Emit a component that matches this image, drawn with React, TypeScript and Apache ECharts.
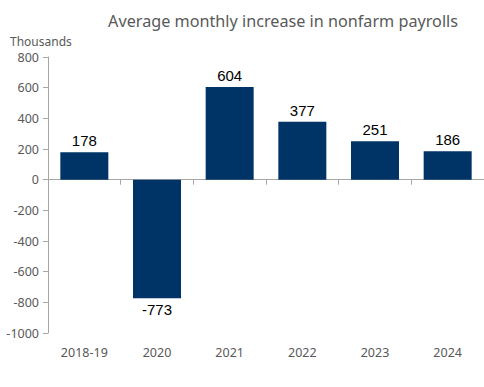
import React, { useEffect, useRef } from "react";
import * as echarts from "echarts";

const categories = ["2018-19", "2020", "2021", "2022", "2023", "2024"];
const values = [178, -773, 604, 377, 251, 186];
const yMin = -1000;
const yMax = 800;
const yInterval = 200;
const titleText = "Average monthly increase in nonfarm payrolls";
const unitText = "Thousands";

export default function App() {
  const ref = useRef<HTMLDivElement>(null);
  useEffect(() => {
    if (!ref.current) return;
    const chart = echarts.init(ref.current, undefined, { renderer: "svg" });
    const axisGray = "#a6a6a6";
    const textGray = "#595959";
    chart.setOption({
      animation: false,
      backgroundColor: "#ffffff",
      title: [
        {
          text: titleText,
          right: 21,
          top: 8,
          textStyle: { fontFamily: "Noto Sans", fontSize: 16.2, fontWeight: "normal", color: textGray },
        },
        {
          text: unitText,
          left: 5,
          top: 30,
          textStyle: { fontFamily: "Noto Sans", fontSize: 12, fontWeight: "normal", color: textGray },
        },
      ],
      grid: { left: 48, right: -2, top: 57, bottom: 54, containLabel: false },
      xAxis: [
        {
          type: "category",
          data: categories,
          position: "bottom",
          axisLine: { show: false, onZero: false },
          axisTick: { show: false },
          axisLabel: { fontFamily: "Noto Sans", fontSize: 12.5, color: textGray, margin: 13 },
        },
        {
          type: "category",
          data: categories,
          position: "bottom",
          axisLine: { show: true, onZero: true, lineStyle: { color: axisGray, width: 1 } },
          axisTick: { show: true, length: 5, lineStyle: { color: axisGray } },
          axisLabel: { show: false },
        },
      ],
      yAxis: {
        type: "value",
        min: yMin,
        max: yMax,
        interval: yInterval,
        axisLine: { show: true, lineStyle: { color: axisGray } },
        axisTick: { show: true, length: 5, lineStyle: { color: axisGray } },
        splitLine: { show: false },
        axisLabel: {
          fontFamily: "Noto Sans",
          fontSize: 12.5,
          color: textGray,
          margin: 9,
          formatter: (v: number) => String(v),
        },
      },
      series: [
        {
          type: "bar",
          xAxisIndex: 0,
          barWidth: 48,
          itemStyle: { color: "#003366" },
          data: values.map((v) => ({
            value: v,
            label: { position: v >= 0 ? "top" : "bottom" },
          })),
          label: {
            show: true,
            distance: 4,
            fontFamily: "Liberation Sans",
            fontSize: 15,
            color: "#000000",
          },
        },
      ],
    });
    return () => chart.dispose();
  }, []);
  return (
    <div
      ref={ref}
      style={{ position: "fixed", left: 0, top: 0, width: 484, height: 387 }}
    />
  );
}
